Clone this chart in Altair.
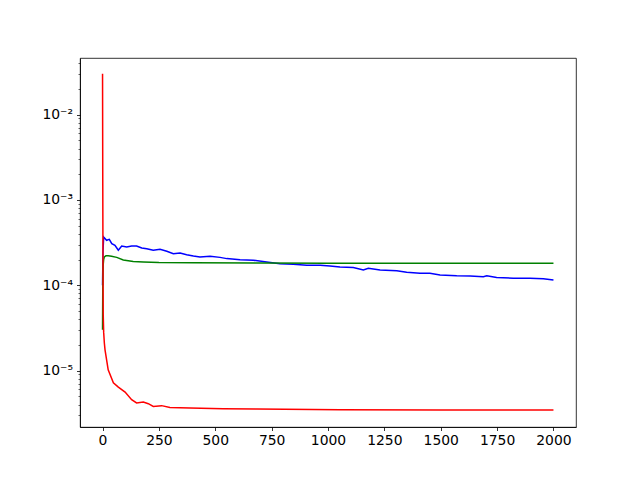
import altair as alt
import pandas as pd

# ---- data ----
x_blue = [0, 2, 5, 18, 30, 41, 55, 70, 85, 107, 129, 151, 174, 196, 225, 255, 285, 314, 344,
          373, 403, 432, 477, 521, 551, 610, 669, 728, 787, 846, 906, 965, 1009, 1053, 1112,
          1157, 1179, 1231, 1305, 1349, 1408, 1452, 1497, 1571, 1630, 1689, 1704, 1748, 1822,
          1896, 1955, 2000]
y_blue = [1.0e-4, 2.5e-4, 3.67e-4, 3.36e-4, 3.45e-4, 3.07e-4, 2.94e-4, 2.57e-4, 2.88e-4,
          2.81e-4, 2.88e-4, 2.88e-4, 2.73e-4, 2.68e-4, 2.57e-4, 2.64e-4, 2.5e-4, 2.34e-4,
          2.39e-4, 2.28e-4, 2.2e-4, 2.14e-4, 2.18e-4, 2.12e-4, 2.05e-4, 1.99e-4, 1.96e-4,
          1.87e-4, 1.79e-4, 1.76e-4, 1.71e-4, 1.71e-4, 1.68e-4, 1.63e-4, 1.61e-4, 1.51e-4,
          1.58e-4, 1.51e-4, 1.48e-4, 1.42e-4, 1.38e-4, 1.38e-4, 1.32e-4, 1.29e-4, 1.28e-4,
          1.26e-4, 1.29e-4, 1.23e-4, 1.21e-4, 1.21e-4, 1.19e-4, 1.15e-4]

x_green = [0, 1, 2, 3, 5, 8, 15, 25, 40, 63, 92, 136, 181, 250, 400, 700, 1000, 1500, 2000]
y_green = [3.0e-5, 9.0e-5, 1.4e-4, 1.75e-4, 2.0e-4, 2.15e-4, 2.21e-4, 2.22e-4, 2.19e-4, 2.12e-4,
           1.98e-4, 1.9e-4, 1.87e-4, 1.84e-4, 1.83e-4, 1.82e-4, 1.815e-4, 1.81e-4, 1.81e-4]

x_red = [0, 1, 2, 3, 5, 8, 11, 25, 48, 70, 100, 129, 151, 181, 203, 225, 262, 299, 388, 534,
         684, 1053, 1500, 2000]
y_red = [3.0e-2, 1.5e-3, 1.5e-4, 4.5e-5, 2.8e-5, 2.1e-5, 1.75e-5, 1.02e-5, 7.2e-6, 6.4e-6,
         5.6e-6, 4.55e-6, 4.17e-6, 4.28e-6, 4.09e-6, 3.8e-6, 3.88e-6, 3.7e-6, 3.64e-6, 3.57e-6,
         3.55e-6, 3.48e-6, 3.45e-6, 3.44e-6]

x_ticks = [0, 250, 500, 750, 1000, 1250, 1500, 1750, 2000]
y_major = [1e-5, 1e-4, 1e-3, 1e-2]
y_minor = [m * 10.0 ** e for e in (-6, -5, -4, -3, -2) for m in range(2, 10)
           if 2.2e-6 <= m * 10.0 ** e <= 4.5e-2]
y_ticks = y_major + y_minor

frames = []
for name, xs, ys in (("blue", x_blue, y_blue), ("green", x_green, y_green), ("red", x_red, y_red)):
    frames.append(pd.DataFrame({"step": xs, "value": ys, "series": name}))
df = pd.concat(frames, ignore_index=True)

x_scale = alt.Scale(domain=[-100, 2100], nice=False, zero=False)
y_scale = alt.Scale(type="log", domain=[2.18e-6, 0.046], nice=False)

is_major = "abs(log(datum.value)/LN10 - round(log(datum.value)/LN10)) < 1e-6"
label_expr = ("datum.value < 5e-5 ? '10⁻⁵' : datum.value < 5e-4 ? '10⁻⁴' : "
              "datum.value < 5e-3 ? '10⁻³' : '10⁻²'")
label_expr = f"({is_major}) ? ({label_expr}) : ''"

x_axis = alt.Axis(values=x_ticks, format="d", title=None, grid=False, tickSize=3.5,
                  tickWidth=0.8, tickColor="black", domainColor="black", domainWidth=0.8,
                  labelPadding=3, labelFont="DejaVu Sans", labelFontSize=13.9,
                  labelColor="black", labelFlush=False, labelOverlap=False)
y_axis = alt.Axis(values=y_ticks, title=None, grid=False,
                  tickSize={"condition": {"test": is_major, "value": 3.5}, "value": 2},
                  tickWidth={"condition": {"test": is_major, "value": 0.8}, "value": 0.6},
                  tickColor="black", domainColor="black", domainWidth=0.8,
                  labelExpr=label_expr, labelPadding=4, labelFont="DejaVu Sans",
                  labelFontSize=13.9, labelColor="black", labelFlush=False,
                  labelOverlap=False, labelBaseline="middle")

colors = {"blue": "#0000ff", "green": "#008000", "red": "#ff0000"}

base = alt.Chart(df).encode(
    x=alt.X("step:Q", scale=x_scale, axis=x_axis),
    y=alt.Y("value:Q", scale=y_scale, axis=y_axis),
)

layers = [
    base.transform_filter(alt.datum.series == name)
    .mark_line(color=colors[name], strokeWidth=1.5, clip=True)
    for name in ["blue", "green", "red"]
]

chart = (
    alt.layer(*layers)
    .properties(width=496, height=369,
                autosize=alt.AutoSizeParams(type="none"),
                padding={"left": 72, "top": 50, "right": 56, "bottom": 45})
    .configure(background="white")
    .configure_view(stroke="black", strokeWidth=0.8)
)

chart.save("out.html", embed_options={"renderer": "svg", "actions": False})
